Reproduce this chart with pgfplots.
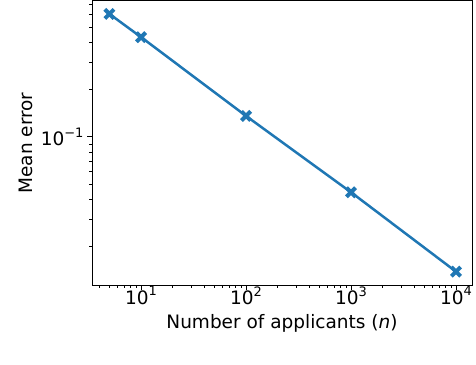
\documentclass[border=0pt]{standalone}
\usepackage{fontspec}
\setmainfont{DejaVu Sans}
\usepackage{pgfplots}
\pgfplotsset{compat=1.18}
\definecolor{tabblue}{HTML}{1F77B4}
\newcommand{\sfolk}[1]{10\raisebox{0.85ex}{\fontsize{13}{13}\selectfont #1}}
\begin{document}
\begin{tikzpicture}
\useasboundingbox (-92pt,-79pt) rectangle (384pt,285pt);
\begin{axis}[
  at={(0pt,0pt)}, anchor=south west,
  scale only axis, width=380pt, height=284pt,
  xmode=log, ymode=log,
  xmin=3.41, xmax=14200, ymin=0.0114, ymax=0.734,
  xtick={10,100,1000,10000},
  xticklabels={\sfolk{1},\sfolk{2},\sfolk{3},\sfolk{4}},
  minor xtick={4,5,6,7,8,9,20,30,40,50,60,70,80,90,200,300,400,500,600,700,800,900,2000,3000,4000,5000,6000,7000,8000,9000},
  ytick={0.1},
  yticklabels={\sfolk{−1}},
  minor ytick={0.02,0.03,0.04,0.05,0.06,0.07,0.08,0.09,0.2,0.3,0.4,0.5,0.6,0.7},
  tick align=outside, xtick pos=bottom, ytick pos=left,
  major tick length=5pt, minor tick length=3pt,
  every tick/.style={black, line width=0.9pt},
  axis line style={line width=1pt, black},
  tick label style={font=\fontsize{18.5}{22}\selectfont},
  xticklabel style={yshift=7pt},
  label style={font=\fontsize{18.5}{22}\selectfont},
  xlabel={Number of applicants (\textit{n})},
  ylabel={Mean error},
  xlabel style={at={(axis description cs:0.5,-0.1514)}, anchor=base},
  ylabel style={at={(axis description cs:-0.1553,0.5)}, anchor=base, rotate=0},
]
\addplot[tabblue, line width=2.5pt, mark=x, mark size=6.5pt, mark options={solid, line width=4pt}]
  coordinates {(5,0.607) (10,0.432) (100,0.136) (1000,0.0444) (10000,0.01387)};
\end{axis}
\end{tikzpicture}
\end{document}
